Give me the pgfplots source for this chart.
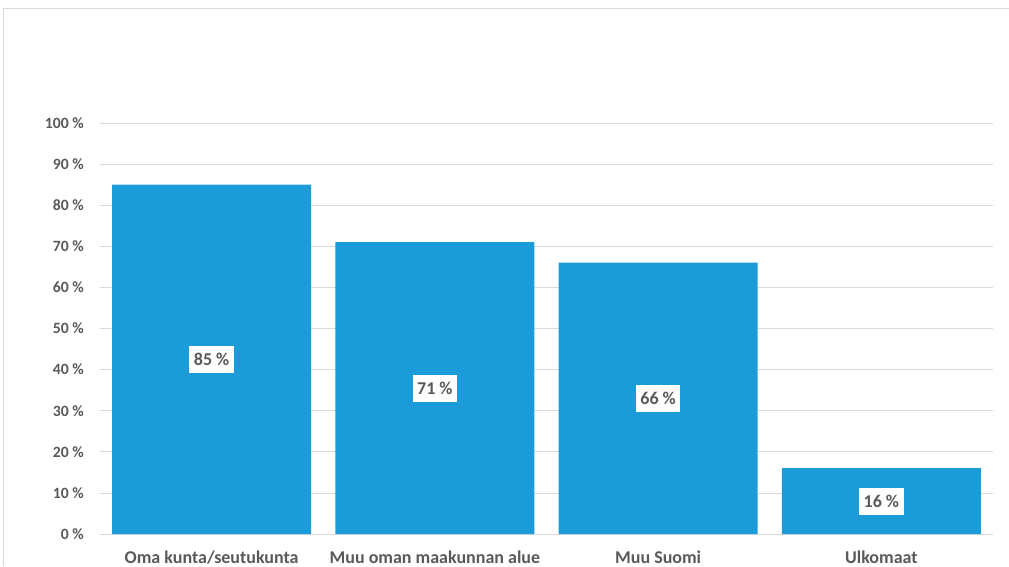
\documentclass[border=0pt]{standalone}
\usepackage{pgfplots}
\pgfplotsset{compat=1.18}
\usepackage{fontspec}
\setmainfont{Carlito}
\definecolor{barblue}{HTML}{1B9CD8}
\definecolor{txtgray}{HTML}{595959}
\definecolor{gridgray}{HTML}{D9D9D9}
\begin{document}
\begin{tikzpicture}
\useasboundingbox (0,0) rectangle (1009pt,566pt);
\draw[gridgray, line width=1pt] (3pt,0pt) -- (3pt,557pt) -- (1009pt,557pt);
\begin{axis}[
  at={(100pt,32pt)}, anchor=south west,
  scale only axis, width=893pt, height=411pt,
  xmin=-0.5, xmax=3.5, ymin=0, ymax=100,
  /pgf/number format/assume math mode=true,
  axis line style={draw=none},
  major tick length=0pt,
  xtick={0,1,2,3},
  xticklabels={Oma kunta/seutukunta, Muu oman maakunnan alue, Muu Suomi, Ulkomaat},
  ytick={0,10,...,100},
  yticklabel={\pgfmathprintnumber{\tick}~\%},
  ymajorgrids, grid style={gridgray, line width=0.8pt},
  xticklabel style={font=\fontsize{18}{20}\selectfont\bfseries, text=txtgray, anchor=base, yshift=-29pt},
  yticklabel style={font=\fontsize{15.7}{18}\selectfont\bfseries, text=txtgray, anchor=east, inner sep=0pt, xshift=-16pt},
  clip=false,
]
\addplot[ybar, bar width=199pt, fill=barblue, draw=none,
  visualization depends on=y \as \rawy,
  nodes near coords={\pgfmathprintnumber{\pgfplotspointmeta}~\%},
  every node near coord/.append style={anchor=center, fill=white, text=txtgray,
    font=\fontsize{18}{20}\selectfont\bfseries, inner xsep=4.5pt, inner ysep=0pt,
    minimum height=27pt, shift={(axis direction cs:0,-\rawy/2)}},
] coordinates {(0,85) (1,71) (2,66) (3,16)};
\end{axis}
\end{tikzpicture}
\end{document}
